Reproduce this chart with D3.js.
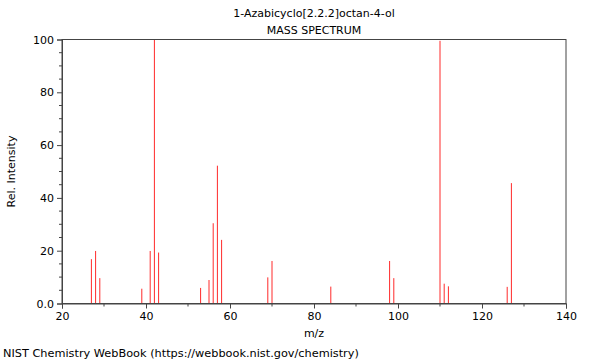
<!DOCTYPE html>
<html><head><meta charset="utf-8">
<script src="https://cdn.jsdelivr.net/npm/d3@7"></script>
<style>body{margin:0;background:#fff}svg{display:block}text{font-family:"DejaVu Sans",sans-serif}</style>
</head><body>
<svg id="c" width="600" height="360"></svg>
<script>
const mz = [27,28,29,39,41,42,43,53,55,56,57,58,69,70,84,98,99,110,111,112,126,127];
const intensity = [16.8,19.9,9.6,5.6,19.9,100,19.3,5.9,8.9,30.4,52.2,24.1,9.9,16.1,6.4,16.1,9.6,99.5,7.5,6.5,6.3,45.6];
const xTicks = [20,40,60,80,100,120,140];
const yTicks = [0,20,40,60,80,100];
const yTickLabels = ["0.0","20","40","60","80","100"];
const title = "1-Azabicyclo[2.2.2]octan-4-ol";
const subtitle = "MASS SPECTRUM";
const footer = "NIST Chemistry WebBook (https://webbook.nist.gov/chemistry)";

const svg = d3.select("#c");
const L=62, R=566, T=39.5, B=303.5;
const x = d3.scaleLinear().domain([20,140]).range([L,R]);
const y = d3.scaleLinear().domain([0,100]).range([B,T]);
const axisColor = "#444";

// peaks
svg.append("g").selectAll("line").data(mz).join("line")
  .attr("x1",d=>x(d)).attr("x2",d=>x(d))
  .attr("y1",y(0)).attr("y2",(d,i)=>y(intensity[i]))
  .attr("stroke","#ff2a2a").attr("stroke-width",1);

// frame
svg.append("rect").attr("x",L).attr("y",T).attr("width",R-L).attr("height",B-T)
  .attr("fill","none").attr("stroke",axisColor).attr("stroke-width",1);

// x axis
const xAx = svg.append("g").attr("transform",`translate(0,${B})`)
  .call(d3.axisBottom(x).tickValues(xTicks).tickSize(5).tickPadding(4).tickFormat(d3.format("d")));
xAx.append("g").selectAll("line").data(d3.range(30,140,20)).join("line")
  .attr("x1",d=>x(d)).attr("x2",d=>x(d)).attr("y1",0).attr("y2",3).attr("stroke",axisColor);
// y axis
const yAx = svg.append("g").attr("transform",`translate(${L},0)`)
  .call(d3.axisLeft(y).tickValues(yTicks).tickSize(5).tickPadding(3).tickFormat((d,i)=>yTickLabels[i]));
yAx.append("g").selectAll("line").data(d3.range(5,100,5).filter(v=>v%20!==0)).join("line")
  .attr("x1",0).attr("x2",-3).attr("y1",d=>y(d)).attr("y2",d=>y(d)).attr("stroke",axisColor);

[xAx,yAx].forEach(a=>{
  a.select(".domain").attr("stroke",axisColor);
  a.selectAll(".tick line").attr("stroke",axisColor);
  a.selectAll(".tick text").attr("font-size",11).attr("fill","#000").attr("font-family","DejaVu Sans");
});

svg.append("text").attr("x",314).attr("y",337).attr("text-anchor","middle").attr("font-size",11).text("m/z");
svg.append("text").attr("transform",`translate(15,${(T+B)/2}) rotate(-90)`).attr("text-anchor","middle").attr("font-size",11).text("Rel. Intensity");
svg.append("text").attr("x",314).attr("y",17).attr("text-anchor","middle").attr("font-size",11).text(title);
svg.append("text").attr("x",314).attr("y",34).attr("text-anchor","middle").attr("font-size",11).text(subtitle);
svg.append("text").attr("x",3).attr("y",357).attr("font-size",11.3).text(footer);
</script>
</body></html>
